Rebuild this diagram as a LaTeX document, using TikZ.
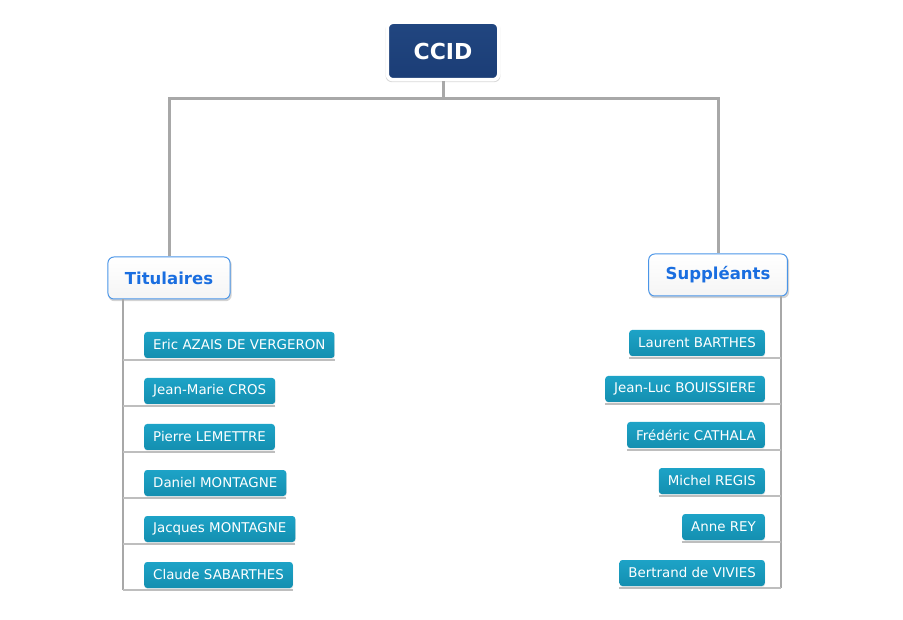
\documentclass[tikz,border=0pt]{standalone}
\usepackage{fontspec}
\setmainfont{DejaVu Sans}
\usetikzlibrary{shadows}
\definecolor{ccidnavy}{RGB}{27,61,118}
\definecolor{ccidtop}{RGB}{33,70,128}
\definecolor{headtext}{RGB}{26,110,224}
\definecolor{headline}{RGB}{74,149,232}
\definecolor{itemtop}{RGB}{29,163,199}
\definecolor{itembot}{RGB}{20,143,176}
\definecolor{trunkgray}{RGB}{168,168,168}
\definecolor{rulegray}{RGB}{190,190,190}

\begin{document}
\begin{tikzpicture}[x=1pt,y=-1pt,
    root/.style={top color=ccidtop,bottom color=ccidnavy,draw=white,line width=3.5pt,rounded corners=6pt,
        drop shadow={opacity=0.3,shadow scale=1.03,shadow xshift=0pt,shadow yshift=-1.5pt},
        minimum width=111.5pt,minimum height=57.5pt,text=white,font=\bfseries\fontsize{22}{26}\selectfont},
    head/.style={top color=white,bottom color=gray!8,draw=headline,line width=1pt,rounded corners=6pt,
        drop shadow={opacity=0.35,shadow scale=1.01,shadow xshift=1pt,shadow yshift=-2pt},
        minimum height=42pt,inner xsep=17pt,text=headtext,font=\bfseries\fontsize{16.5}{20}\selectfont},
    member/.style={top color=itemtop,bottom color=itembot,rounded corners=3pt,
        drop shadow={opacity=0.15,shadow xshift=0.5pt,shadow yshift=-1pt},
        minimum height=26pt,inner xsep=9pt,text=white,font=\fontsize{13.4}{16}\selectfont},
    trunk/.style={draw=trunkgray,line width=3pt},
    branch/.style={draw=trunkgray,line width=1.3pt},
    leaf/.style={draw=rulegray,line width=1.6pt}]
    \useasboundingbox (0,0) rectangle (903,620);

    \node[root] (ccid) at (443,51) {CCID};
    \node[head] (tit) at (169,278) {Titulaires};
    \node[head] (sup) at (718,275) {Suppléants};
    \coordinate (bus) at (443,99);
    \draw[trunk] (ccid.south) -- (bus);
    \draw[trunk] (tit.north) |- (bus) -| (sup.north);

    \node[member,anchor=west] (t1) at (144,345) {Eric AZAIS DE VERGERON};
    \node[member,anchor=west] (t2) at (144,391) {Jean-Marie CROS};
    \node[member,anchor=west] (t3) at (144,437) {Pierre LEMETTRE};
    \node[member,anchor=west] (t4) at (144,483) {Daniel MONTAGNE};
    \node[member,anchor=west] (t5) at (144,529) {Jacques MONTAGNE};
    \node[member,anchor=west] (t6) at (144,575) {Claude SABARTHES};

    \node[member,anchor=east] (s1) at (765,343) {Laurent BARTHES};
    \node[member,anchor=east] (s2) at (765,389) {Jean-Luc BOUISSIERE};
    \node[member,anchor=east] (s3) at (765,435) {Frédéric CATHALA};
    \node[member,anchor=east] (s4) at (765,481) {Michel REGIS};
    \node[member,anchor=east] (s5) at (765,527) {Anne REY};
    \node[member,anchor=east] (s6) at (765,573) {Bertrand de VIVIES};

    \coordinate (lend) at (123,590);
    \coordinate (rend) at (781,588);
    \draw[branch] (tit.south -| lend) -- (lend);
    \draw[branch] (sup.south -| rend) -- (rend);

    \draw[leaf] ([yshift=-2pt]t1.south east) -- ([yshift=-2pt]t1.south east -| lend);
    \draw[leaf] ([yshift=-2pt]t2.south east) -- ([yshift=-2pt]t2.south east -| lend);
    \draw[leaf] ([yshift=-2pt]t3.south east) -- ([yshift=-2pt]t3.south east -| lend);
    \draw[leaf] ([yshift=-2pt]t4.south east) -- ([yshift=-2pt]t4.south east -| lend);
    \draw[leaf] ([yshift=-2pt]t5.south east) -- ([yshift=-2pt]t5.south east -| lend);
    \draw[leaf] ([yshift=-2pt]t6.south east) -- ([yshift=-2pt]t6.south east -| lend);

    \draw[leaf] ([yshift=-2pt]s1.south west) -- ([yshift=-2pt]s1.south west -| rend);
    \draw[leaf] ([yshift=-2pt]s2.south west) -- ([yshift=-2pt]s2.south west -| rend);
    \draw[leaf] ([yshift=-2pt]s3.south west) -- ([yshift=-2pt]s3.south west -| rend);
    \draw[leaf] ([yshift=-2pt]s4.south west) -- ([yshift=-2pt]s4.south west -| rend);
    \draw[leaf] ([yshift=-2pt]s5.south west) -- ([yshift=-2pt]s5.south west -| rend);
    \draw[leaf] ([yshift=-2pt]s6.south west) -- ([yshift=-2pt]s6.south west -| rend);
\end{tikzpicture}
\end{document}
